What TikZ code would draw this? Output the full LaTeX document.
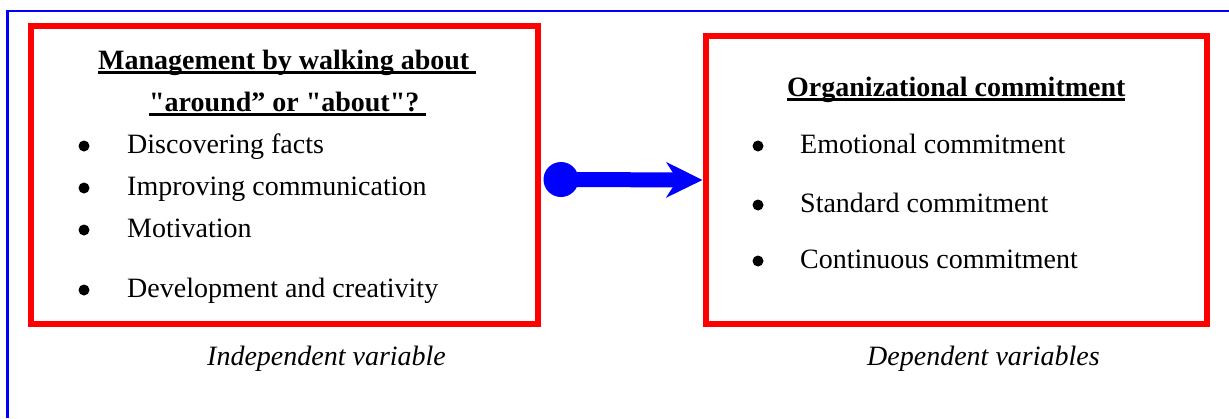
\documentclass[tikz,border=0pt]{standalone}
\usepackage{fontspec}
\setmainfont{Liberation Serif}[Ligatures=TeXOff]
\usetikzlibrary{arrows.meta}
\newcommand\myul[1]{\setbox0\hbox{#1}\rlap{\rule[-4.5pt]{\wd0}{2.2pt}}\box0}
\begin{document}
\begin{tikzpicture}[x=1pt,y=1pt,
  txt/.style={inner sep=0pt,anchor=base west,font=\fontsize{28}{34}\selectfont},
  ttl/.style={txt,font=\fontsize{28}{34}\selectfont\bfseries},
  lbl/.style={txt,font=\fontsize{28}{34}\selectfont\itshape},
  bul/.style={circle,fill=black,inner sep=0pt,minimum size=11pt},
  redbox/.style={draw=red,line width=6pt,inner sep=0pt},
  frame/.style={draw=blue,line width=2.4pt}]
\useasboundingbox (0,0) rectangle (1229,-418);
% outer frame
\draw[frame] (7.5,-418) -- (7.5,-10.7) -- (1229,-10.7);
% boxes
\node[redbox,minimum width=506.5pt,minimum height=298pt] (L) at (284.25,-175) {};
\node[redbox,minimum width=501.5pt,minimum height=288pt] (R) at (956.25,-180) {};
% left content
\node[ttl] (t1) at (98,-69) {\myul{Management by walking about\ }};
\node[ttl] (t2) at (149,-111) {\myul{"around” or "about"?\ }};
\node[bul] (b1) at (84,-146) {};
\node[txt] (l1) at (127,-153) {Discovering facts};
\node[bul] (b2) at (84,-188) {};
\node[txt] (l2) at (127,-195) {Improving communication};
\node[bul] (b3) at (84,-230) {};
\node[txt] (l3) at (127,-237) {Motivation};
\node[bul] (b4) at (84,-290) {};
\node[txt] (l4) at (127,-297) {Development and creativity};
% right content
\node[ttl] (t3) at (787,-96) {\myul{Organizational commitment}};
\node[bul] (c1) at (758,-146) {};
\node[txt] (r1) at (800,-153) {Emotional commitment};
\node[bul] (c2) at (758,-205) {};
\node[txt] (r2) at (800,-212) {Standard commitment};
\node[bul] (c3) at (758,-261) {};
\node[txt] (r3) at (800,-268) {Continuous commitment};
% labels
\node[lbl] (iv) at (207,-365) {Independent variable};
\node[lbl] (dv) at (867,-365) {Dependent variables};
% arrow
\node[circle,fill=blue,inner sep=0pt,minimum size=35pt] (dot) at (561,-179.5) {};
\draw[blue,line width=15pt,-{Stealth[length=36pt,width=35pt,inset=11pt]}] (dot.center) -- (R.west);
\end{tikzpicture}
\end{document}
